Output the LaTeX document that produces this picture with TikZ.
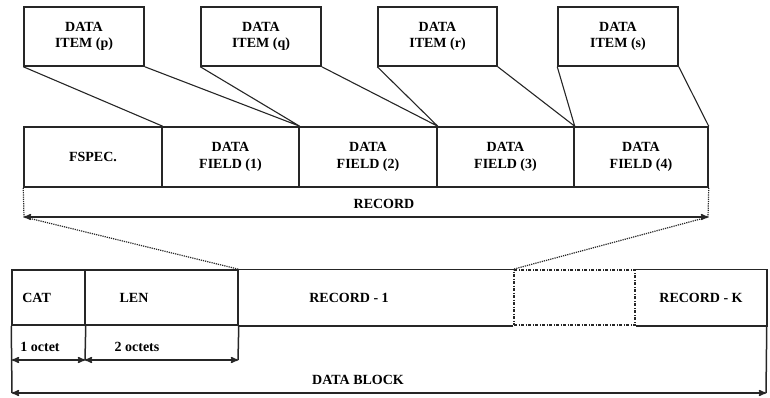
\documentclass[tikz,border=0pt]{standalone}
\usepackage{fontspec}
\setmainfont{Liberation Serif}
\usepackage{tikz}
\usetikzlibrary{arrows,positioning}
\usepackage{amsmath}

\begin{document}
\begin{tikzpicture}[>=stealth',x=1pt,y=-1pt,line width=1.5pt,draw=black!85,
                    font=\bfseries\fontsize{14}{16.5}\selectfont]
  \tikzstyle{item} = [rectangle, draw, minimum width=120pt, minimum height=59pt, align=center]
  \tikzstyle{field} = [rectangle, draw, minimum height=60pt, align=center]
  \tikzstyle{blk} = [rectangle, minimum height=55pt]
  \tikzstyle{link} = [densely dotted]
  \useasboundingbox (0,0) rectangle (770,398);
  % data items
  \node[item] (p) at (84,36.5) [] {DATA\\ITEM (p)};
  \node[item] (q) at (261,36.5) [] {DATA\\ITEM (q)};
  \node[item,minimum width=119pt] (r) at (437.5,36.5) [] {DATA\\ITEM (r)};
  \node[item] (s) at (618,36.5) [] {DATA\\ITEM (s)};
  % record
  \node[field,minimum width=138pt] (fs) at (93,157) [] {FSPEC.};
  \node[field,minimum width=137pt] (f1) at (230.5,157) [] {DATA\\FIELD (1)};
  \node[field,minimum width=138pt] (f2) at (368,157) [] {DATA\\FIELD (2)};
  \node[field,minimum width=137pt] (f3) at (505.5,157) [] {DATA\\FIELD (3)};
  \node[field,minimum width=134pt] (f4) at (641,157) [] {DATA\\FIELD (4)};
  \draw[line width=1.1pt]
        (p.south west) -- (fs.north east)
        (p.south east) -- (f1.north east)
        (q.south west) -- (f1.north east)
        (q.south east) -- (f2.north east)
        (r.south west) -- (f2.north east)
        (r.south east) -- (f3.north east)
        (s.south west) -- (f3.north east)
        (s.south east) -- (f4.north east);
  \coordinate (rl) at (24,217);
  \coordinate (rr) at (708,217);
  \draw[<->] (rl) -- (rr);
  \node (rec) at (384,204) [] {RECORD};
  % data block
  \node[blk,draw,minimum width=73pt] (cat) at (48.5,297.5) [] {};
  \node[blk,draw,minimum width=153pt] (len) at (161.5,297.5) [] {};
  \node[blk,minimum width=276pt] (rec1) at (376,297.5) [] {};
  \node[blk,draw,dash pattern=on 3pt off 1.5pt on 1pt off 1.5pt,minimum width=121pt] (gap) at (574.5,297.5) [] {};
  \node[blk,minimum width=131pt] (reck) at (700.5,297.5) [] {};
  \draw (len.north east) -- (gap.north west)
        (gap.north east) -- (reck.north east) -- (reck.south east) -- (gap.south east)
        (gap.south west) -- (len.south east);
  \node[right=7pt of cat.west] (cat-t) {CAT};
  \node (len-t) at (134,298) [] {LEN};
  \node (rec1-t) at (349,298) [] {RECORD - 1};
  \node (reck-t) at (701,298) [] {RECORD - K};
  \draw[link,line width=1.2pt] (fs.south west) -- (rl) -- (len.north east);
  \draw[link,line width=1.2pt] (f4.south east) -- (rr) -- (gap.north west);
  \coordinate (c0) at (12,360);
  \coordinate (c1) at (85,360);
  \coordinate (c2) at (238,360);
  \coordinate (bl) at (12,393);
  \coordinate (br) at (766,393);
  \draw (cat.south west) -- (bl)
        (reck.south east) -- (br)
        (cat.south east) -- (c1)
        (len.south east) -- (c2);
  \draw[<->] (c0) -- (c1);
  \draw[<->] (c1) -- (c2);
  \draw[<->] (bl) -- (br);
  \node (oct1) at (40,347) [] {1 octet};
  \node (oct2) at (137,347) [] {2 octets};
  \node (blk-t) at (358,380) [] {DATA BLOCK};
\end{tikzpicture}
\end{document}
